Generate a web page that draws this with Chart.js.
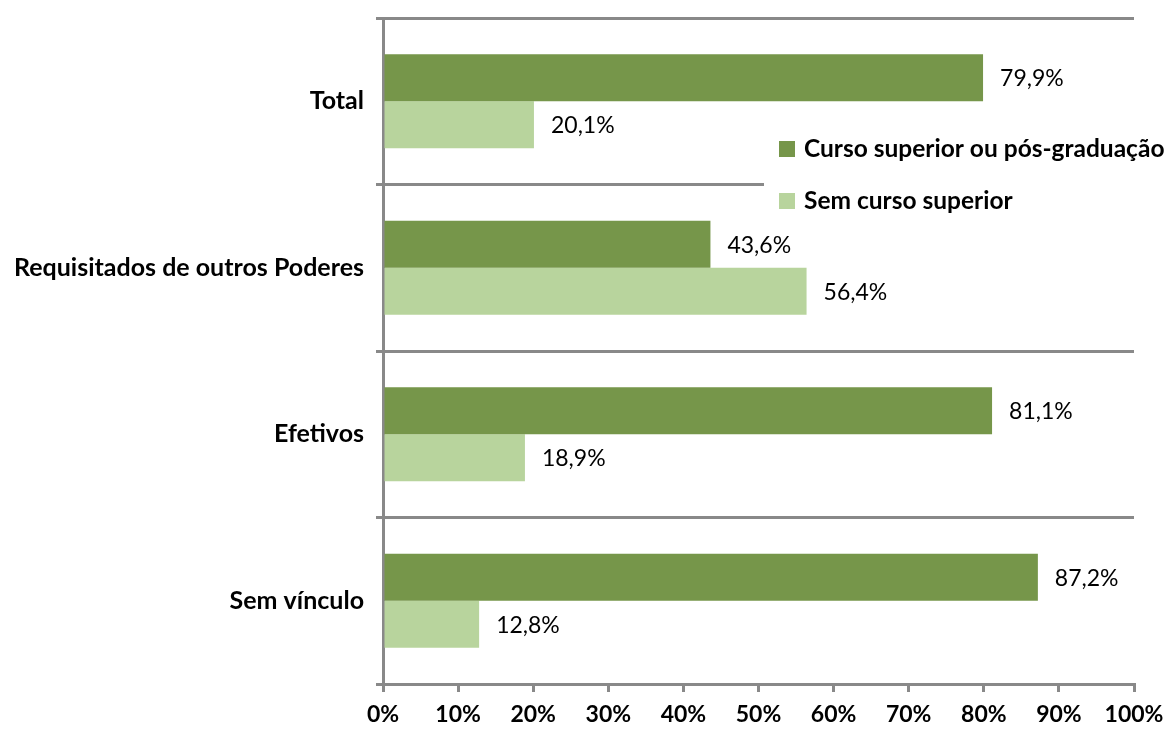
<!DOCTYPE html>
<html>
<head>
<meta charset="utf-8">
<script src="https://cdn.jsdelivr.net/npm/chart.js@4.4.1/dist/chart.umd.min.js"></script>
<style>
  html, body { margin: 0; padding: 0; background: #fff; }
  #wrap { width: 1168px; height: 731px; }
</style>
</head>
<body>
<div id="wrap"><canvas id="chart" width="1168" height="731"></canvas></div>
<script>
const categorias = ['Total', 'Requisitados de outros Poderes', 'Efetivos', 'Sem vínculo'];
const comSuperior = [79.9, 43.6, 81.1, 87.2];
const semSuperior = [20.1, 56.4, 18.9, 12.8];
const nomesSeries = ['Curso superior ou pós-graduação', 'Sem curso superior'];
const coresSeries = ['#76964A', '#B8D49D'];

const FONTE = 'Lato, "Open Sans", sans-serif';
const CINZA = '#898989';

// rótulos de valor ao lado de cada barra
const rotulos = {
  id: 'rotulos',
  afterDatasetsDraw(chart) {
    const ctx = chart.ctx;
    ctx.save();
    ctx.font = '23px ' + FONTE;
    ctx.fillStyle = '#000';
    ctx.textBaseline = 'middle';
    ctx.textAlign = 'left';
    chart.data.datasets.forEach((ds, i) => {
      chart.getDatasetMeta(i).data.forEach((bar, j) => {
        const txt = ds.data[j].toFixed(1).replace('.', ',') + '%';
        ctx.fillText(txt, bar.x + 17, bar.y + 1);
      });
    });
    ctx.restore();
  }
};

// legenda dentro da área do gráfico, com fundo branco
const legenda = {
  id: 'legenda',
  afterDraw(chart) {
    const ctx = chart.ctx;
    ctx.save();
    ctx.fillStyle = '#fff';
    ctx.fillRect(764, 122, 404, 100);
    ctx.font = 'bold 24.5px ' + FONTE;
    ctx.textBaseline = 'middle';
    nomesSeries.forEach((nome, i) => {
      const y = 149 + i * 52;
      ctx.fillStyle = coresSeries[i];
      ctx.fillRect(779, y - 8, 16, 16);
      ctx.fillStyle = '#000';
      ctx.fillText(nome, 804, y);
    });
    ctx.restore();
  }
};

new Chart(document.getElementById('chart'), {
  type: 'bar',
  data: {
    labels: categorias,
    datasets: [
      { label: nomesSeries[0], data: comSuperior, backgroundColor: coresSeries[0] },
      { label: nomesSeries[1], data: semSuperior, backgroundColor: coresSeries[1] }
    ]
  },
  options: {
    indexAxis: 'y',
    responsive: false,
    animation: false,
    datasets: { bar: { categoryPercentage: 0.565, barPercentage: 1 } },
    layout: { padding: { top: 18, right: 34, left: 0, bottom: 0 } },
    plugins: { legend: { display: false }, tooltip: { enabled: false } },
    scales: {
      x: {
        min: 0, max: 100,
        ticks: {
          stepSize: 10,
          padding: 9,
          color: '#000',
          font: { family: FONTE, size: 23, weight: 'bold' },
          callback: v => v + '%'
        },
        grid: { drawOnChartArea: false, color: CINZA, lineWidth: 3, tickLength: 8 },
        border: { color: CINZA, width: 3 },
        afterFit(s) { s.height = 47; s.paddingLeft = 0; s.paddingRight = 0; }
      },
      y: {
        ticks: {
          padding: 12,
          color: '#000',
          font: { family: FONTE, size: 25, weight: 'bold' }
        },
        grid: { color: CINZA, lineWidth: 3, tickLength: 7, offset: true },
        border: { color: CINZA, width: 3 },
        afterFit(s) { s.width = 383; s.paddingTop = 0; s.paddingBottom = 0; }
      }
    }
  },
  plugins: [rotulos, legenda]
});
</script>
</body>
</html>
